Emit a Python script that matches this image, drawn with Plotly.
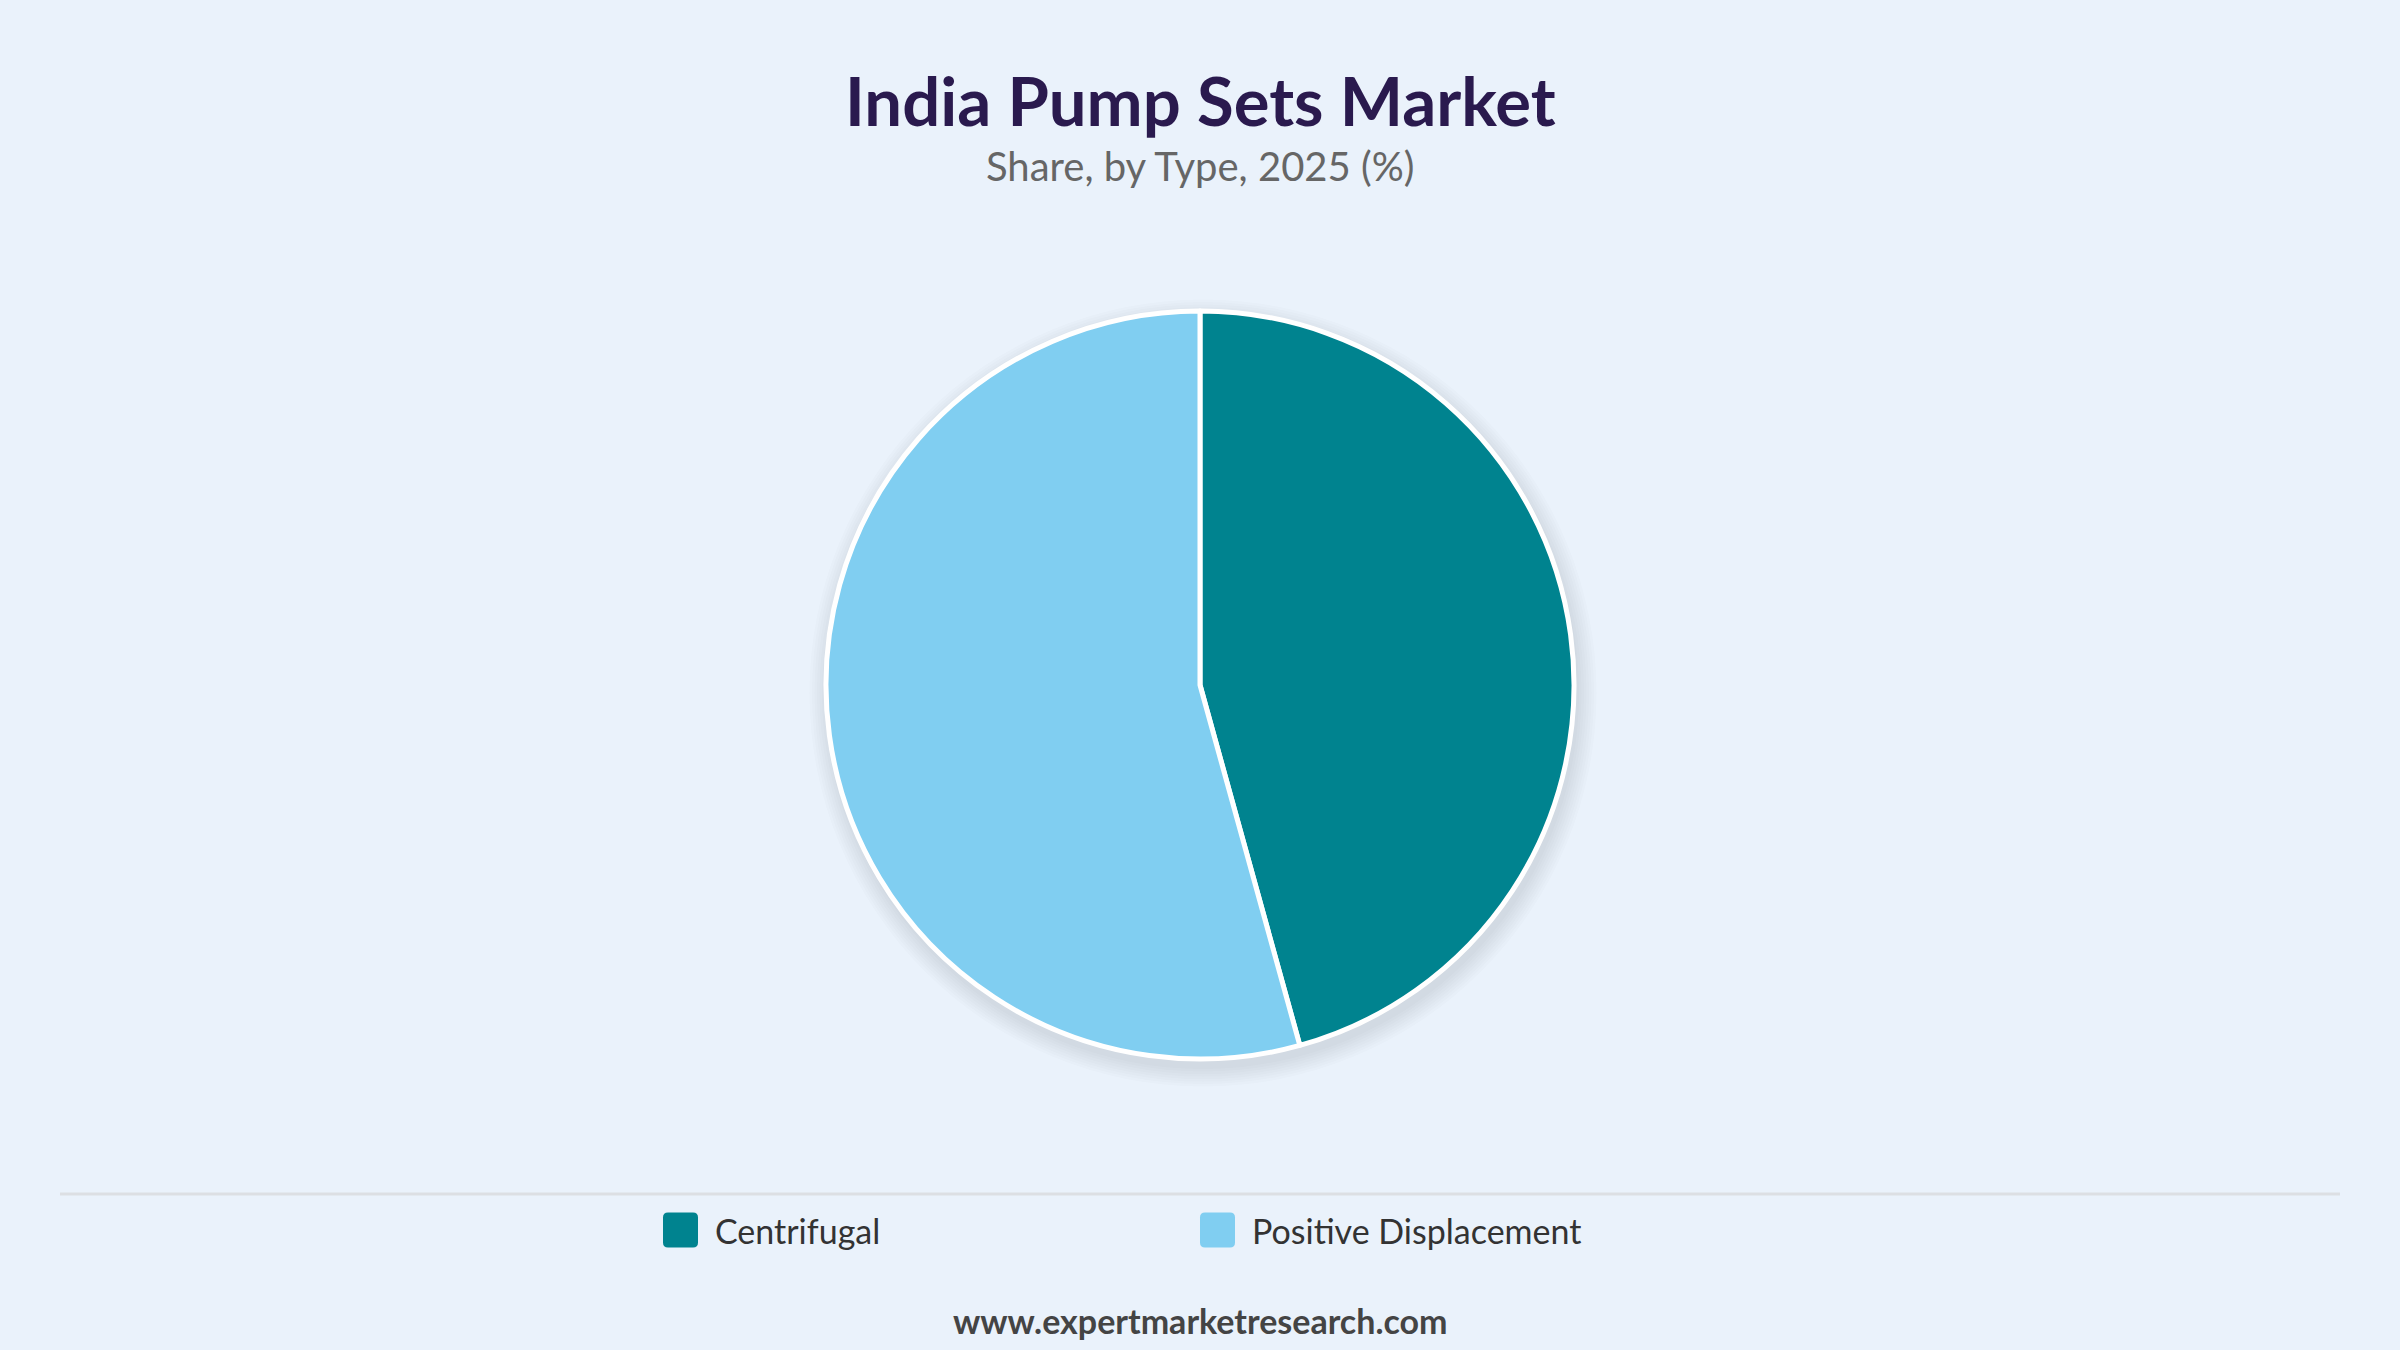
import plotly.graph_objects as go

# ---- data ----
categories = ["Centrifugal", "Positive Displacement"]
shares = [45.7, 54.3]
colors = ["#00838F", "#80CEF1"]
title_text = "India Pump Sets Market"
subtitle_text = "Share, by Type, 2025 (%)"
footer_text = "www.expertmarketresearch.com"

W, H = 2400, 1350
BG = "#EAF2FB"
FONT = "Lato"

cx, cy, r = 1200, 685, 374  # pie geometry in px (layout only)

fig = go.Figure()
fig.add_trace(go.Pie(
    labels=categories, values=shares,
    marker=dict(colors=colors, line=dict(color="white", width=5)),
    sort=False, direction="clockwise", rotation=0,
    textinfo="none", hoverinfo="label+percent",
    showlegend=False,
    domain=dict(x=[0, 1], y=[1 - (cy + r) / H, 1 - (cy - r) / H]),
))

shapes = []
# soft shadow under the pie
for k in range(8):
    rr = r + 2 + k * 2.5
    ox, oy = 3, 8
    shapes.append(dict(
        type="circle", xref="paper", yref="paper", layer="below",
        x0=(cx + ox - rr) / W, x1=(cx + ox + rr) / W,
        y0=1 - (cy + oy + rr) / H, y1=1 - (cy + oy - rr) / H,
        fillcolor="rgba(60,60,70,0.014)", line=dict(width=0),
    ))
# separator line
shapes.append(dict(type="line", xref="paper", yref="paper",
                   x0=60 / W, x1=2340 / W, y0=1 - 1194 / H, y1=1 - 1194 / H,
                   line=dict(color="#DCDFE3", width=3)))

annotations = [
    dict(text=f"<b>{title_text}</b>", x=0.5, y=1 - 100 / H, xref="paper", yref="paper",
         showarrow=False, xanchor="center", yanchor="middle",
         font=dict(family=FONT, size=67, weight=900, color="#2A1A4E")),
    dict(text=subtitle_text, x=0.5, y=1 - 166 / H, xref="paper", yref="paper",
         showarrow=False, xanchor="center", yanchor="middle",
         font=dict(family=FONT, size=40, color="#666666")),
    dict(text=f"<b>{footer_text}</b>", x=0.5, y=1 - 1320 / H, xref="paper", yref="paper",
         showarrow=False, xanchor="center", yanchor="middle",
         font=dict(family=FONT, size=34, color="#444444")),
]

# custom legend
legend_x = [663, 1200]
sw, ly = 35, 1230
for name, col, lx in zip(categories, colors, legend_x):
    x0, x1 = lx, lx + sw
    y0, y1 = ly - sw / 2, ly + sw / 2
    rad = 5
    def px(x): return x / W
    def py(y): return 1 - y / H
    path = (f"M {px(x0+rad)},{py(y0)} L {px(x1-rad)},{py(y0)} "
            f"Q {px(x1)},{py(y0)} {px(x1)},{py(y0+rad)} L {px(x1)},{py(y1-rad)} "
            f"Q {px(x1)},{py(y1)} {px(x1-rad)},{py(y1)} L {px(x0+rad)},{py(y1)} "
            f"Q {px(x0)},{py(y1)} {px(x0)},{py(y1-rad)} L {px(x0)},{py(y0+rad)} "
            f"Q {px(x0)},{py(y0)} {px(x0+rad)},{py(y0)} Z")
    shapes.append(dict(type="path", xref="paper", yref="paper", path=path,
                       fillcolor=col, line=dict(width=0)))
    annotations.append(dict(text=name, x=(x1 + 15) / W, y=1 - ly / H, xref="paper", yref="paper",
                            showarrow=False, xanchor="left", yanchor="middle",
                            font=dict(family=FONT, size=34, color="#333333")))

fig.update_layout(
    width=W, height=H,
    paper_bgcolor=BG, plot_bgcolor=BG,
    margin=dict(l=0, r=0, t=0, b=0),
    shapes=shapes, annotations=annotations,
    showlegend=False,
)

fig.write_html("out.html")
